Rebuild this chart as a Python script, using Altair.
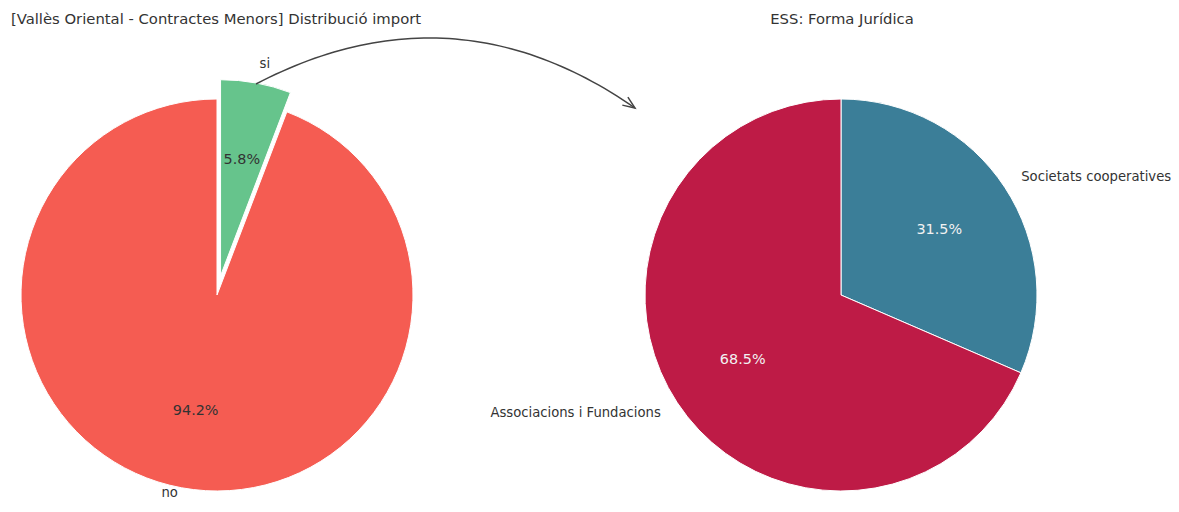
import math
import altair as alt
import pandas as pd

# ---------------- data ----------------
left_labels = ["si", "no"]
left_values = [5.8, 94.2]
right_labels = ["Societats cooperatives", "Associacions i Fundacions"]
right_values = [31.5, 68.5]
left_title = "[Vallès Oriental - Contractes Menors] Distribució import"
right_title = "ESS: Forma Jurídica"
left_colors = ["#66c48c", "#f55c52"]
right_colors = ["#3b7e98", "#be1b46"]
exploded = ["si"]

# ---------------- layout ----------------
W, H = 1163, 496
R = 196
LEFT_C = (209, 287)
RIGHT_C = (833, 287)
EXPLODE = 0.1
FONT = "DejaVu Sans"
TXT = "#333333"
TITLE_SIZE = 14.8
LABEL_SIZE = 13.2
PCT_SIZE = 14.4

theta_scale = alt.Scale(domain=[0, 100], range=[0, 2 * math.pi])
color_scale = alt.Scale(domain=left_labels + right_labels, range=left_colors + right_colors)


def pie_table(labels, values):
    df = pd.DataFrame({"label": labels, "value": values})
    df["pct"] = df["value"] / df["value"].sum() * 100
    df["end"] = df["pct"].cumsum()
    df["start"] = df["end"] - df["pct"]
    df["mid"] = (df["start"] + df["end"]) / 2
    df["pct_label"] = df["pct"].map(lambda v: f"{v:.1f}%")
    return df


def pie_layers(labels, values, center, pct_color):
    df = pie_table(labels, values)
    layers = []
    for _, row in df.iterrows():
        a = row["mid"] / 100 * 2 * math.pi
        e = EXPLODE * R if row["label"] in exploded else 0
        cx = center[0] + e * math.sin(a)
        cy = center[1] - e * math.cos(a)
        sub = df[df["label"] == row["label"]]
        base = alt.Chart(sub)
        arc = base.mark_arc(outerRadius=R, stroke="white", strokeWidth=1).encode(
            theta=alt.Theta("start:Q", scale=theta_scale),
            theta2="end:Q",
            color=alt.Color("label:N", scale=color_scale, legend=None),
            x=alt.value(cx),
            y=alt.value(cy),
        )
        pct = base.mark_text(radius=0.6 * R, font=FONT, fontSize=PCT_SIZE, color=pct_color,
                             align="center", baseline="middle").encode(
            theta=alt.Theta("mid:Q", scale=theta_scale, stack=None),
            text="pct_label:N",
            x=alt.value(cx),
            y=alt.value(cy),
        )
        align = "left" if math.sin(a) > 0 else "right"
        # keep a label that would fall past the bottom edge inside the view
        ly = cy - 1.1 * R * math.cos(a)
        dy = min(0, (H - 4) - (ly + LABEL_SIZE / 2))
        lab = base.mark_text(radius=1.1 * R, font=FONT, fontSize=LABEL_SIZE, color=TXT,
                             align=align, baseline="middle", dy=dy).encode(
            theta=alt.Theta("mid:Q", scale=theta_scale, stack=None),
            text="label:N",
            x=alt.value(cx),
            y=alt.value(cy),
        )
        layers += [arc, pct, lab]
    return layers


layers = []
layers += pie_layers(left_labels, left_values, LEFT_C, TXT)
layers += pie_layers(right_labels, right_values, RIGHT_C, "#f2f2f2")

# titles
for t, cx in [(left_title, 208), (right_title, 834)]:
    layers.append(
        alt.Chart(pd.DataFrame({"t": [t]})).mark_text(
            font=FONT, fontSize=TITLE_SIZE, color=TXT, align="center", baseline="middle"
        ).encode(text="t:N", x=alt.value(cx), y=alt.value(12))
    )

# curved annotation arrow (quadratic curve between two anchor points)
P0 = (248, 76)
P2 = (627, 100)
C = (444.7, -26.8)
n = 60
ts = [i / n for i in range(n + 1)]
curve = pd.DataFrame({
    "t": ts,
    "x": [(1 - t) ** 2 * P0[0] + 2 * t * (1 - t) * C[0] + t ** 2 * P2[0] for t in ts],
    "y": [(1 - t) ** 2 * P0[1] + 2 * t * (1 - t) * C[1] + t ** 2 * P2[1] for t in ts],
})
layers.append(
    alt.Chart(curve).mark_line(color="#444444", strokeWidth=1.5).encode(
        x=alt.X("x:Q", scale=None, axis=None),
        y=alt.Y("y:Q", scale=None, axis=None),
        order="t:Q",
    )
)
# arrow head
ang = math.atan2(P2[1] - C[1], P2[0] - C[0])
L, spread = 13, math.radians(22)
head = pd.DataFrame({
    "k": [0, 1, 2],
    "x": [P2[0] - L * math.cos(ang - spread), P2[0], P2[0] - L * math.cos(ang + spread)],
    "y": [P2[1] - L * math.sin(ang - spread), P2[1], P2[1] - L * math.sin(ang + spread)],
})
layers.append(
    alt.Chart(head).mark_line(color="#444444", strokeWidth=1.5).encode(
        x=alt.X("x:Q", scale=None, axis=None),
        y=alt.Y("y:Q", scale=None, axis=None),
        order="k:Q",
    )
)

chart = alt.layer(*layers).properties(
    width=W, height=H, padding=0,
    autosize=alt.AutoSizeParams(type="none"),
).configure_view(stroke=None)

chart.save("out.html", embed_options={"renderer": "svg", "actions": False})
